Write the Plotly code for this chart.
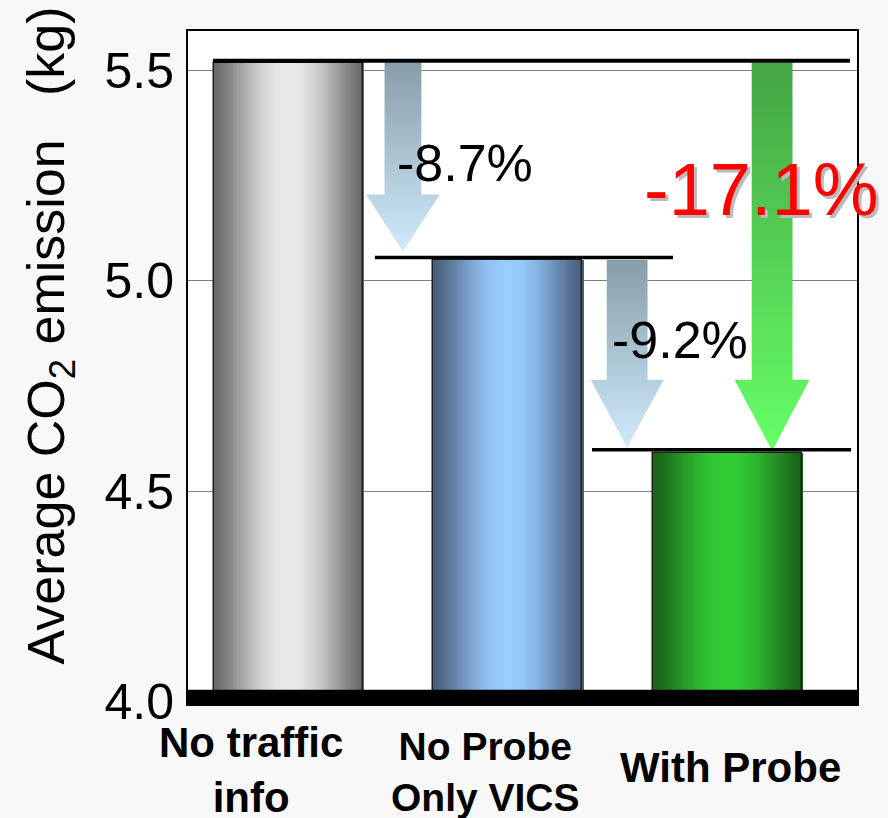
import math
import plotly.graph_objects as go

# ---- data ----
categories = ["No traffic<br>info", "No Probe<br>Only VICS", "With Probe"]
co2_values = [5.52, 5.05, 4.59]
reduction_labels = ["-8.7%", "-9.2%", "-17.1%"]
y_ticks = [4.0, 4.5, 5.0, 5.5]

# ---- styling ----
FONT = "Liberation Sans, Arial, sans-serif"
xpos = [0, 1, 2]
bar_w = 0.68
edge_cols = [(104, 104, 104), (72, 94, 122), (24, 98, 24)]
center_cols = [(234, 234, 234), (153, 204, 255), (51, 204, 51)]
N = 80

fig = go.Figure()

# gradient bars built from vertical strips (overlay)
for k in range(N):
    t = (k + 0.5) / N
    s = 1 - abs(2 * t - 1)
    f = math.sin(s * math.pi / 2) ** 1.3
    cols = []
    for e, c in zip(edge_cols, center_cols):
        rgb = tuple(int(round(e[i] + (c[i] - e[i]) * f)) for i in range(3))
        cols.append("rgb(%d,%d,%d)" % rgb)
    fig.add_trace(go.Bar(
        x=xpos, y=co2_values, width=bar_w / N * 1.6,
        offset=-bar_w / 2 + k * bar_w / N,
        marker=dict(color=cols, line=dict(width=0)),
        hoverinfo="skip", showlegend=False,
    ))
# outline
fig.add_trace(go.Bar(
    x=xpos, y=co2_values, width=bar_w,
    marker=dict(color="rgba(0,0,0,0)", line=dict(color="#1e1e1e", width=1.5)),
    showlegend=False, name="CO2",
))

# arrows (vertical gradient)
def arrow(cx, hs, hh, y_top, y_tip, head, c_top, c_bot):
    yb = y_tip + head
    xs = [cx - hs, cx + hs, cx + hs, cx + hh, cx, cx - hh, cx - hs, cx - hs]
    ys = [y_top, y_top, yb, yb, y_tip, yb, yb, y_top]
    fig.add_trace(go.Scatter(
        x=xs, y=ys, mode="lines", fill="toself",
        line=dict(width=0, color="rgba(0,0,0,0)"),
        fillgradient=dict(type="vertical", start=y_tip, stop=y_top,
                          colorscale=[[0, c_bot], [1, c_top]]),
        hoverinfo="skip", showlegend=False,
    ))

v1, v2, v3 = co2_values
arrow(0.522, 0.084, 0.168, v1, v2 + 0.02, 0.136, "#889DAA", "#CFEBFB")
arrow(1.544, 0.093, 0.166, v2, v3 + 0.013, 0.162, "#889DAA", "#CFEBFB")
arrow(2.205, 0.093, 0.171, v1, v3 + 0.006, 0.169, "#44A544", "#66FF66")

shapes = [
    dict(type="rect", xref="paper", x0=0, x1=1, yref="y", y0=3.985, y1=4.027,
         fillcolor="black", line=dict(width=0), layer="above"),
    dict(type="line", xref="x", yref="y", x0=-0.344, x1=2.56, y0=v1 + 0.004, y1=v1 + 0.004,
         line=dict(color="black", width=4), layer="above"),
    dict(type="line", xref="x", yref="y", x0=0.394, x1=1.753, y0=v2 + 0.006, y1=v2 + 0.006,
         line=dict(color="black", width=3.5), layer="above"),
    dict(type="line", xref="x", yref="y", x0=1.384, x1=2.565, y0=v3 + 0.008, y1=v3 + 0.008,
         line=dict(color="black", width=3.5), layer="above"),
]

annotations = [
    dict(x=0.805, y=5.28, xref="x", yref="y", text=reduction_labels[0], showarrow=False,
         font=dict(family=FONT, size=52, color="black"), xanchor="center", yanchor="middle"),
    dict(x=1.785, y=4.86, xref="x", yref="y", text=reduction_labels[1], showarrow=False,
         font=dict(family=FONT, size=52, color="black"), xanchor="center", yanchor="middle"),
    dict(x=2.155, y=5.217, xref="x", yref="y", text=reduction_labels[2], showarrow=False,
         font=dict(family=FONT, size=74, color="#BBBBBB"), xanchor="center", yanchor="middle",
         xshift=3, yshift=-3),
    dict(x=2.155, y=5.217, xref="x", yref="y", text=reduction_labels[2], showarrow=False,
         font=dict(family=FONT, size=74, color="#FF0000"), xanchor="center", yanchor="middle"),
    dict(x=-0.206, y=0.548, xref="paper", yref="paper",
         text="Average CO<sub>2</sub> emission\u00a0\u00a0\u00a0(kg)", textangle=-90, showarrow=False,
         font=dict(family=FONT, size=52, color="black"), xanchor="center", yanchor="middle"),
]
label_style = [(-37, -0.098, 42), (-22, -0.101, 39), (3, -0.094, 42)]
for xp, lab, (xs, yp, fs) in zip(xpos, categories, label_style):
    annotations.append(dict(x=xp, y=yp, xref="x", yref="paper", text="<b>%s</b>" % lab,
                            showarrow=False, xshift=xs, align="center",
                            font=dict(family=FONT, size=fs, color="black"),
                            xanchor="center", yanchor="middle"))

fig.update_layout(
    width=888, height=818,
    margin=dict(l=188, r=31, t=31, b=114),
    paper_bgcolor="#f8f8f8", plot_bgcolor="white",
    barmode="overlay", bargap=0,
    showlegend=False,
    shapes=shapes, annotations=annotations,
    font=dict(family=FONT, color="black"),
    xaxis=dict(range=[-0.458, 2.592], showticklabels=False, showgrid=False, zeroline=False,
               showline=True, mirror=True, linecolor="black", linewidth=2, fixedrange=True),
    yaxis=dict(range=[3.993, 5.595], tickvals=y_ticks, tickformat=".1f",
               tickfont=dict(family=FONT, size=50, color="black"),
               showgrid=True, gridcolor="#7f7f7f", gridwidth=1, zeroline=False,
               showline=True, mirror=True, linecolor="black", linewidth=2,
               ticks="", ticklabelstandoff=2),
)

fig.write_html("out.html", config={"displayModeBar": False},
               post_script="document.body.style.margin='0px';document.body.style.overflow='hidden';")
